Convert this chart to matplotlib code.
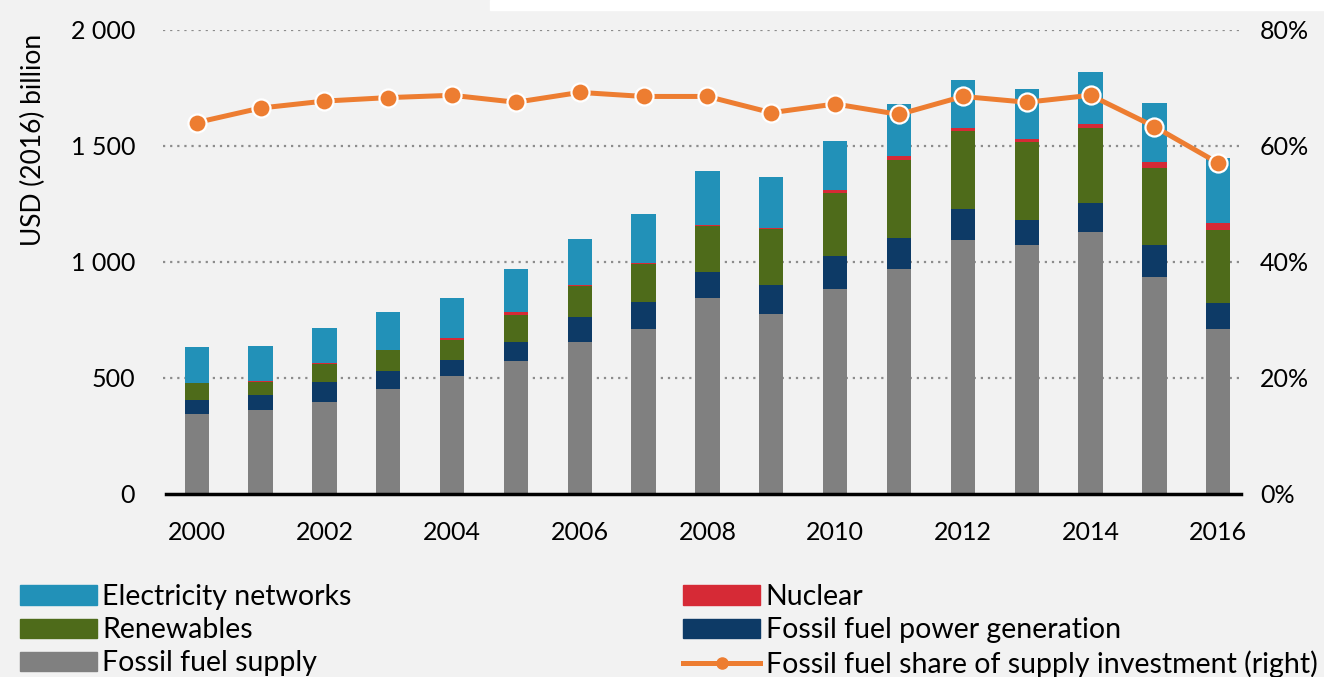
import matplotlib.pyplot as plt
from matplotlib.lines import Line2D
from matplotlib.patches import Patch, Rectangle
import numpy as np

# data (USD 2016 billion)
years = list(range(2000, 2017))
fossil_supply = [341, 361, 396, 451, 509, 572, 652, 710, 845, 776, 884, 970, 1092, 1071, 1129, 936, 708]
fossil_power = [62, 62, 85, 78, 68, 80, 109, 116, 112, 124, 142, 133, 133, 108, 125, 136, 113]
renewables = [72, 59, 77, 88, 87, 119, 136, 162, 198, 240, 272, 336, 337, 338, 321, 330, 315]
nuclear = [3, 3, 3, 3, 7, 11, 4, 5, 5, 4, 11, 18, 13, 12, 19, 26, 32]
networks = [152, 153, 153, 162, 172, 186, 196, 213, 230, 223, 213, 225, 207, 217, 224, 257, 277]
# fossil fuel share of supply investment, percent (right axis)
fossil_share = [64.0, 66.5, 67.7, 68.3, 68.7, 67.5, 69.2, 68.5, 68.5, 65.7, 67.2, 65.4, 68.5, 67.5, 68.7, 63.3, 57.0]

left_ticks = [0, 500, 1000, 1500, 2000]
left_labels = ['0', '500', '1 000', '1 500', '2 000']
right_ticks = [0, 20, 40, 60, 80]
right_labels = ['0%', '20%', '40%', '60%', '80%']
year_ticks = list(range(2000, 2017, 2))

col_supply = '#808080'
col_power = '#0d3a66'
col_nuclear = '#d62a36'
col_renew = '#4e6b1a'
col_networks = '#2291b8'
col_line = '#ed7d31'
bg = '#f2f2f2'

plt.rcParams['font.family'] = ['Lato', 'DejaVu Sans']


def main():
    fig = plt.figure(figsize=(13.24, 6.77), dpi=100, facecolor=bg)
    ax = fig.add_axes([0.123, 0.271, 0.814, 0.685])
    ax.set_facecolor(bg)

    #stacked bars, bottom to top
    x = np.array(years)
    w = 0.38
    bottom = np.zeros(len(years))
    for vals, col in [(fossil_supply, col_supply), (fossil_power, col_power),
                      (renewables, col_renew), (nuclear, col_nuclear),
                      (networks, col_networks)]:
        ax.bar(x, vals, w, bottom=bottom, color=col, zorder=3)
        bottom = bottom + np.array(vals)

    ax.set_xlim(1999.47, 2016.35)
    ax.set_ylim(0, 2000)
    ax.set_yticks(left_ticks)
    ax.set_yticklabels(left_labels)
    ax.set_xticks(year_ticks)
    ax.set_xticklabels([str(y) for y in year_ticks])
    ax.tick_params(axis='both', length=0, labelsize=18)
    ax.tick_params(axis='x', pad=20)
    ax.tick_params(axis='y', pad=20)

    #dotted grid
    for t in left_ticks[1:]:
        ax.axhline(t, color='#8c8c8c', linestyle=(0, (1, 2.2)), linewidth=1.6, zorder=1)

    for s in ['top', 'right', 'left']:
        ax.spines[s].set_visible(False)
    ax.spines['bottom'].set_linewidth(2.5)
    ax.spines['bottom'].set_bounds(1999.52, 2016.35)
    ax.spines['bottom'].set_zorder(4)

    #right axis with the share line
    ax2 = ax.twinx()
    ax2.plot(years, fossil_share, color=col_line, linewidth=3.6, marker='o',
             markersize=13, markerfacecolor=col_line, markeredgecolor='white',
             markeredgewidth=1.6, zorder=5)
    ax2.set_ylim(0, 80)
    ax2.set_yticks(right_ticks)
    ax2.set_yticklabels(right_labels)
    ax2.tick_params(axis='y', length=0, labelsize=18, pad=14)
    for s in ax2.spines.values():
        s.set_visible(False)

    fig.text(0.025, 1 - 140 / 677, 'USD (2016) billion', rotation=90,
             ha='center', va='center', fontsize=19)

    #legends
    handles_l = [Patch(color=col_networks, label='Electricity networks'),
                 Patch(color=col_renew, label='Renewables'),
                 Patch(color=col_supply, label='Fossil fuel supply')]
    handles_r = [Patch(color=col_nuclear, label='Nuclear'),
                 Patch(color=col_power, label='Fossil fuel power generation'),
                 Line2D([], [], color=col_line, linewidth=3.6, marker='o', markersize=8,
                        label='Fossil fuel share of supply investment (right)')]
    leg_kw = dict(frameon=False, fontsize=20.5, handlelength=2.7, handleheight=0.65,
                  handletextpad=0.2, labelspacing=0.25, borderpad=0, borderaxespad=0)
    fig.legend(handles=handles_l, loc='upper left', bbox_to_anchor=(0.015, 1 - 584 / 677), **leg_kw)
    fig.legend(handles=handles_r, loc='upper left', bbox_to_anchor=(0.516, 1 - 584 / 677), **leg_kw)

    #white strip at the top of the original image
    fig.patches.append(Rectangle((490 / 1324, 1 - 10 / 677), 1, 10 / 677,
                                 transform=fig.transFigure, color='white', zorder=0))

    fig.savefig('out.png', dpi=100, facecolor=bg)


if __name__ == '__main__':
    main()
